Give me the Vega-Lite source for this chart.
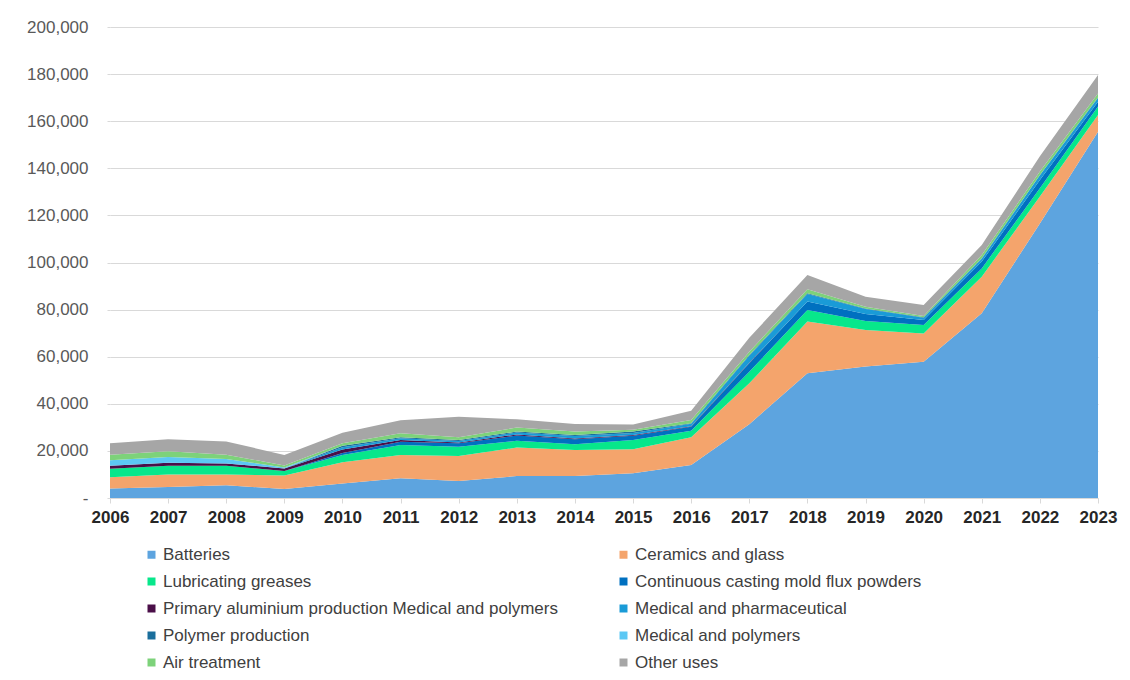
{
  "$schema": "https://vega.github.io/schema/vega-lite/v6.json",
  "autosize": {"type": "none"},
  "width": 988,
  "height": 471,
  "padding": {"left": 110, "top": 27, "right": 32, "bottom": 182},
  "background": "white",
  "data": {
    "values": [
      {"year": "2006", "Batteries": 4000, "Ceramics and glass": 4800, "Lubricating greases": 3600, "Continuous casting mold flux powders": 0, "Primary aluminium production Medical and polymers": 1300, "Medical and pharmaceutical": 0, "Polymer production": 0, "Medical and polymers": 2300, "Air treatment": 2400, "Other uses": 4800},
      {"year": "2007", "Batteries": 4700, "Ceramics and glass": 5300, "Lubricating greases": 3700, "Continuous casting mold flux powders": 0, "Primary aluminium production Medical and polymers": 1300, "Medical and pharmaceutical": 0, "Polymer production": 0, "Medical and polymers": 2400, "Air treatment": 2400, "Other uses": 5200},
      {"year": "2008", "Batteries": 5400, "Ceramics and glass": 4600, "Lubricating greases": 3700, "Continuous casting mold flux powders": 0, "Primary aluminium production Medical and polymers": 1000, "Medical and pharmaceutical": 0, "Polymer production": 0, "Medical and polymers": 1900, "Air treatment": 1800, "Other uses": 5600},
      {"year": "2009", "Batteries": 3800, "Ceramics and glass": 5800, "Lubricating greases": 1900, "Continuous casting mold flux powders": 0, "Primary aluminium production Medical and polymers": 1000, "Medical and pharmaceutical": 0, "Polymer production": 0, "Medical and polymers": 400, "Air treatment": 900, "Other uses": 4500},
      {"year": "2010", "Batteries": 6200, "Ceramics and glass": 9000, "Lubricating greases": 3100, "Continuous casting mold flux powders": 800, "Primary aluminium production Medical and polymers": 1500, "Medical and pharmaceutical": 1000, "Polymer production": 600, "Medical and polymers": 0, "Air treatment": 1000, "Other uses": 4500},
      {"year": "2011", "Batteries": 8400, "Ceramics and glass": 9900, "Lubricating greases": 4200, "Continuous casting mold flux powders": 1400, "Primary aluminium production Medical and polymers": 700, "Medical and pharmaceutical": 800, "Polymer production": 400, "Medical and polymers": 0, "Air treatment": 1700, "Other uses": 5500},
      {"year": "2012", "Batteries": 7200, "Ceramics and glass": 10600, "Lubricating greases": 4000, "Continuous casting mold flux powders": 1400, "Primary aluminium production Medical and polymers": 400, "Medical and pharmaceutical": 600, "Polymer production": 400, "Medical and polymers": 0, "Air treatment": 1200, "Other uses": 8700},
      {"year": "2013", "Batteries": 9300, "Ceramics and glass": 12100, "Lubricating greases": 2900, "Continuous casting mold flux powders": 2200, "Primary aluminium production Medical and polymers": 500, "Medical and pharmaceutical": 800, "Polymer production": 400, "Medical and polymers": 0, "Air treatment": 1700, "Other uses": 3500},
      {"year": "2014", "Batteries": 9300, "Ceramics and glass": 11100, "Lubricating greases": 2400, "Continuous casting mold flux powders": 2100, "Primary aluminium production Medical and polymers": 400, "Medical and pharmaceutical": 1000, "Polymer production": 500, "Medical and polymers": 0, "Air treatment": 1400, "Other uses": 3200},
      {"year": "2015", "Batteries": 10500, "Ceramics and glass": 10200, "Lubricating greases": 3900, "Continuous casting mold flux powders": 1800, "Primary aluminium production Medical and polymers": 400, "Medical and pharmaceutical": 800, "Polymer production": 600, "Medical and polymers": 0, "Air treatment": 800, "Other uses": 2200},
      {"year": "2016", "Batteries": 14000, "Ceramics and glass": 11800, "Lubricating greases": 2800, "Continuous casting mold flux powders": 1700, "Primary aluminium production Medical and polymers": 200, "Medical and pharmaceutical": 1000, "Polymer production": 200, "Medical and polymers": 0, "Air treatment": 1400, "Other uses": 3900},
      {"year": "2017", "Batteries": 31300, "Ceramics and glass": 17400, "Lubricating greases": 4900, "Continuous casting mold flux powders": 3600, "Primary aluminium production Medical and polymers": 200, "Medical and pharmaceutical": 3000, "Polymer production": 300, "Medical and polymers": 0, "Air treatment": 1400, "Other uses": 5900},
      {"year": "2018", "Batteries": 53000, "Ceramics and glass": 21900, "Lubricating greases": 4900, "Continuous casting mold flux powders": 3600, "Primary aluminium production Medical and polymers": 0, "Medical and pharmaceutical": 3200, "Polymer production": 300, "Medical and polymers": 0, "Air treatment": 1700, "Other uses": 6100},
      {"year": "2019", "Batteries": 55800, "Ceramics and glass": 15500, "Lubricating greases": 3900, "Continuous casting mold flux powders": 2900, "Primary aluminium production Medical and polymers": 0, "Medical and pharmaceutical": 2200, "Polymer production": 200, "Medical and polymers": 0, "Air treatment": 700, "Other uses": 4300},
      {"year": "2020", "Batteries": 57900, "Ceramics and glass": 12000, "Lubricating greases": 3600, "Continuous casting mold flux powders": 2100, "Primary aluminium production Medical and polymers": 0, "Medical and pharmaceutical": 900, "Polymer production": 200, "Medical and polymers": 0, "Air treatment": 600, "Other uses": 4700},
      {"year": "2021", "Batteries": 78400, "Ceramics and glass": 15600, "Lubricating greases": 3500, "Continuous casting mold flux powders": 2900, "Primary aluminium production Medical and polymers": 0, "Medical and pharmaceutical": 1200, "Polymer production": 200, "Medical and polymers": 0, "Air treatment": 1400, "Other uses": 4200},
      {"year": "2022", "Batteries": 116600, "Ceramics and glass": 11400, "Lubricating greases": 3500, "Continuous casting mold flux powders": 3500, "Primary aluminium production Medical and polymers": 0, "Medical and pharmaceutical": 2000, "Polymer production": 200, "Medical and polymers": 0, "Air treatment": 1400, "Other uses": 6500},
      {"year": "2023", "Batteries": 155500, "Ceramics and glass": 7100, "Lubricating greases": 3600, "Continuous casting mold flux powders": 2100, "Primary aluminium production Medical and polymers": 0, "Medical and pharmaceutical": 1600, "Polymer production": 200, "Medical and polymers": 0, "Air treatment": 1700, "Other uses": 7800}
    ]
  },
  "transform": [
    {"fold": ["Batteries", "Ceramics and glass", "Lubricating greases", "Continuous casting mold flux powders", "Primary aluminium production Medical and polymers", "Medical and pharmaceutical", "Polymer production", "Medical and polymers", "Air treatment", "Other uses"], "as": ["use", "value"]},
    {"window": [{"op": "row_number", "as": "layer"}], "groupby": ["year"]}
  ],
  "mark": {"type": "area", "interpolate": "linear"},
  "encoding": {
    "x": {
      "field": "year", "type": "ordinal",
      "scale": {"padding": 0},
      "axis": {
        "title": null, "labelAngle": 0, "labelFont": "Liberation Sans", "labelFontSize": 17, "labelFontWeight": "bold", "labelColor": "#262626",
        "domainColor": "#d9d9d9", "tickColor": "#d9d9d9", "tickSize": 5, "labelPadding": 6, "grid": false
      }
    },
    "y": {
      "field": "value", "type": "quantitative", "stack": "zero",
      "scale": {"domain": [0, 200000], "nice": false},
      "axis": {
        "title": null, "values": [0, 20000, 40000, 60000, 80000, 100000, 120000, 140000, 160000, 180000, 200000],
        "labelExpr": "datum.value == 0 ? '-' : format(datum.value, ',')",
        "labelFont": "Liberation Sans", "labelFontSize": 17, "labelColor": "#595959",
        "domain": false, "ticks": true, "tickSize": 3, "tickColor": "#d9d9d9", "labelPadding": 19,
        "grid": true, "gridColor": "#d9d9d9", "gridWidth": 1
      }
    },
    "color": {
      "field": "use", "type": "nominal",
      "sort": ["Batteries", "Ceramics and glass", "Lubricating greases", "Continuous casting mold flux powders", "Primary aluminium production Medical and polymers", "Medical and pharmaceutical", "Polymer production", "Medical and polymers", "Air treatment", "Other uses"],
      "scale": {
        "domain": ["Batteries", "Ceramics and glass", "Lubricating greases", "Continuous casting mold flux powders", "Primary aluminium production Medical and polymers", "Medical and pharmaceutical", "Polymer production", "Medical and polymers", "Air treatment", "Other uses"],
        "range": ["#5DA4DF", "#F4A46C", "#07E78B", "#0070C0", "#4A0F48", "#1A9BD7", "#1A6E9C", "#5CC8F4", "#7DD27A", "#A6A6A6"]
      },
      "legend": {
        "title": null, "orient": "none", "legendX": 33, "legendY": 519, "direction": "horizontal", "columns": 2,
        "symbolType": "square", "symbolSize": 64, "symbolStrokeWidth": 0, "labelFont": "Liberation Sans", "labelFontSize": 17, "labelColor": "#404040",
        "labelOffset": 3, "rowPadding": 9, "columnPadding": 57, "labelLimit": 500
      }
    },
    "order": {"field": "layer", "type": "quantitative", "sort": "ascending"}
  },
  "config": {"view": {"stroke": null}}
}
